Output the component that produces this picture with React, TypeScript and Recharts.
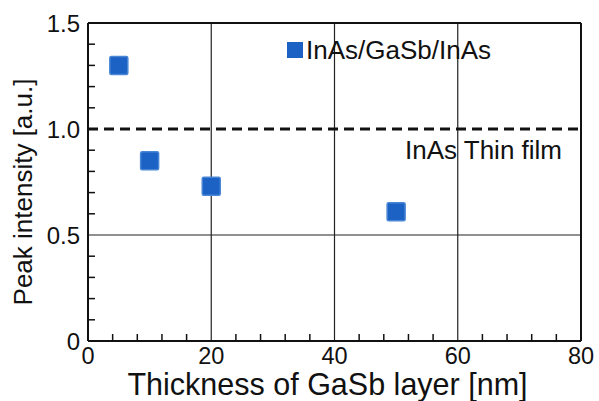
import React from 'react';
import { ScatterChart, Scatter, XAxis, YAxis, ReferenceLine, Legend, Label } from 'recharts';

const thickness = [5, 10, 20, 50];
const peakIntensity = [1.3, 0.85, 0.73, 0.61];
const seriesName = 'InAs/GaSb/InAs';
const refLabel = 'InAs Thin film';
const refValue = 1.0;
const xTicks = [0, 4, 8, 12, 16, 20, 24, 28, 32, 36, 40, 44, 48, 52, 56, 60, 64, 68, 72, 76, 80];
const xMajorTicks = [0, 20, 40, 60, 80];
const xGridLines = [20, 40, 60];
const yTicks = [0, 0.1, 0.2, 0.3, 0.4, 0.5, 0.6, 0.7, 0.8, 0.9, 1.0, 1.1, 1.2, 1.3, 1.4, 1.5];
const yMajorTicks = [0, 0.5, 1.0, 1.5];
const yMajorLabels = ['0', '0.5', '1.0', '1.5'];
const xTitle = 'Thickness of GaSb layer [nm]';
const yTitle = 'Peak intensity [a.u.]';

const data = thickness.map((x, i) => ({ x, y: peakIntensity[i] }));

const FONT = '"Liberation Sans", Arial, Helvetica, sans-serif';
const MARKER_FILL = '#1b62c4';
const MARKER_STROKE = '#4a86d6';

const XTick = (props: any) => {
  const { x, y, payload } = props;
  const v = payload.value;
  if (xMajorTicks.includes(v)) {
    return (
      <text x={x} y={y + 22.5} textAnchor="middle" fontSize={23.5} fontFamily={FONT} fill="#111">
        {String(v)}
      </text>
    );
  }
  return <line x1={x} x2={x} y1={y} y2={y - 7} stroke="#111" strokeWidth={1.5} />;
};

const YTick = (props: any) => {
  const { x, y, payload } = props;
  const v = payload.value;
  const idx = yMajorTicks.findIndex((m) => Math.abs(m - v) < 1e-9);
  if (idx >= 0) {
    return (
      <text x={x - 8} y={y + 8.5} textAnchor="end" fontSize={24} fontFamily={FONT} fill="#111">
        {yMajorLabels[idx]}
      </text>
    );
  }
  return <line x1={x} x2={x + 7} y1={y} y2={y} stroke="#111" strokeWidth={1.5} />;
};

const SquareMarker = (props: any) => {
  const { cx, cy } = props;
  const s = 18;
  return (
    <rect
      x={cx - s / 2}
      y={cy - s / 2}
      width={s}
      height={s}
      rx={1.5}
      fill={MARKER_FILL}
      stroke={MARKER_STROKE}
      strokeWidth={1.5}
    />
  );
};

const LegendContent = (props: any) => {
  const items = props.payload || [];
  return (
    <div style={{ fontFamily: FONT }}>
      {items.map((it: any, i: number) => (
        <div key={i} style={{ display: 'flex', alignItems: 'center' }}>
          <div style={{ width: 16, height: 16, background: MARKER_FILL, marginRight: 3 }} />
          <span style={{ fontSize: 26, lineHeight: '26px', color: '#111' }}>{it.value}</span>
        </div>
      ))}
    </div>
  );
};

export default function App() {
  return (
    <div style={{ position: 'absolute', left: 0, top: 0, background: '#fff' }}>
      <ScatterChart width={599} height={401} margin={{ top: 23, right: 18, bottom: 20, left: 18 }}>
        <XAxis
          type="number"
          dataKey="x"
          domain={[0, 80]}
          ticks={xTicks}
          interval={0}
          tick={<XTick />}
          tickLine={false}
          tickSize={0}
          tickMargin={0}
          axisLine={{ stroke: '#111', strokeWidth: 2 }}
          height={40}
          allowDataOverflow
        >
          <Label
            content={(p: any) => {
              const vb = p.viewBox;
              return (
                <text
                  x={vb.x + vb.width / 2 - 7}
                  y={vb.y + 54}
                  textAnchor="middle"
                  fontSize={30.5}
                  fontFamily={FONT}
                  fill="#111"
                >
                  {xTitle}
                </text>
              );
            }}
          />
        </XAxis>
        <YAxis
          type="number"
          dataKey="y"
          domain={[0, 1.5]}
          ticks={yTicks}
          interval={0}
          tick={<YTick />}
          tickLine={false}
          tickSize={0}
          tickMargin={0}
          axisLine={{ stroke: '#111', strokeWidth: 2 }}
          width={70}
          allowDataOverflow
        >
          <Label
            content={(p: any) => {
              const vb = p.viewBox;
              const cy = vb.y + vb.height / 2 + 10;
              return (
                <text
                  x={32}
                  y={cy}
                  transform={`rotate(-90, 32, ${cy})`}
                  textAnchor="middle"
                  fontSize={26}
                  fontFamily={FONT}
                  fill="#111"
                >
                  {yTitle}
                </text>
              );
            }}
          />
        </YAxis>
        {xGridLines.map((g) => (
          <ReferenceLine key={g} x={g} stroke="#222" strokeWidth={1.2} />
        ))}
        <ReferenceLine y={0.5} stroke="#222" strokeWidth={1.2} />
        <ReferenceLine y={1.5} stroke="#111" strokeWidth={2} />
        <ReferenceLine x={80} stroke="#111" strokeWidth={2} />
        <ReferenceLine y={refValue} stroke="#111" strokeWidth={3} strokeDasharray="10 6">
          <Label
            content={(p: any) => {
              const vb = p.viewBox;
              return (
                <text
                  x={vb.x + vb.width - 19}
                  y={vb.y + 30}
                  textAnchor="end"
                  fontSize={26}
                  fontFamily={FONT}
                  fill="#111"
                >
                  {refLabel}
                </text>
              );
            }}
          />
        </ReferenceLine>
        <Legend
          layout="vertical"
          align="center"
          verticalAlign="middle"
          content={<LegendContent />}
          wrapperStyle={{ top: 37, left: 287, width: 'auto', height: 'auto' }}
        />
        <Scatter
          name={seriesName}
          data={data}
          fill={MARKER_FILL}
          shape={<SquareMarker />}
          isAnimationActive={false}
        />
      </ScatterChart>
    </div>
  );
}
